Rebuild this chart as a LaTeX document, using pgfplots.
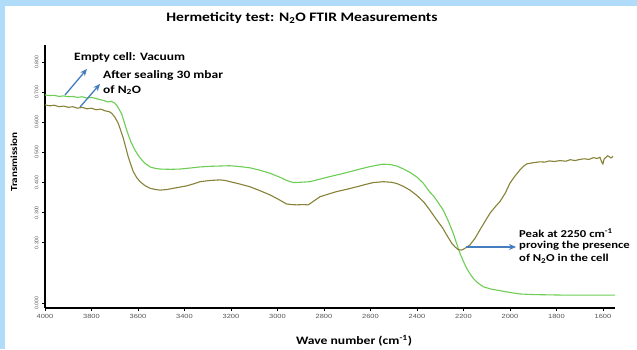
\documentclass[border=0pt]{standalone}
\usepackage{pgfplots}
\pgfplotsset{compat=1.18}
\usepackage{fontspec}
\setmainfont{Carlito}[FakeStretch=1.2]
\newfontfamily\tickfont{Liberation Sans}[FakeStretch=1.25]
\newfontfamily\ytickfont{Liberation Sans}
\usetikzlibrary{arrows.meta}
\definecolor{bgblue}{RGB}{176,220,250}
\definecolor{vacgreen}{RGB}{110,205,85}
\definecolor{olive2}{RGB}{135,130,55}
\definecolor{arrowblue}{RGB}{70,125,190}
\definecolor{tickgray}{RGB}{85,85,85}
\begin{document}
\begin{tikzpicture}[x=1bp,y=1bp]
\useasboundingbox (0,0) rectangle (637,349);
\fill[bgblue] (0,0) rectangle (637,349);
\fill[white] (5,0) rectangle (637,343);
\begin{axis}[
  at={(45bp,41bp)}, anchor=south west,
  scale only axis, width=570bp, height=263bp,
  xmin=1548, xmax=4000, x dir=reverse,
  ymin=-0.0166, ymax=0.857,
  axis lines=left, axis line style={-, line width=1.2bp, black},
  tick align=outside, major tick length=3bp,
  tick style={black, line width=0.6bp},
  xtick={1600,1800,...,4000},
  ytick={0,0.2,0.3,0.4,0.5,0.6,0.7,0.8},
  /pgf/number format/assume math mode=true,
  xticklabel style={font=\tickfont\fontsize{6}{7}\selectfont, text=tickgray},
  yticklabel style={font=\ytickfont\fontsize{5.2}{6}\selectfont, text=tickgray, rotate=90, anchor=south},
  x tick label style={/pgf/number format/1000 sep={}},
  y tick label style={/pgf/number format/.cd, fixed, fixed zerofill, precision=3},
  clip=false,
]
\addplot[vacgreen, line width=1.1bp] coordinates {
(4000,0.691)(3980,0.689)(3960,0.690)(3940,0.686)(3920,0.688)(3900,0.685)(3880,0.686)(3860,0.683)(3840,0.685)(3820,0.681)(3800,0.683)(3780,0.679)(3760,0.675)(3745,0.672)(3730,0.668)(3715,0.670)(3700,0.664)(3690,0.655)(3680,0.642)(3670,0.628)(3660,0.603)(3650,0.578)(3643,0.562)(3630,0.534)(3613,0.508)(3600,0.492)(3591,0.482)(3570,0.464)(3548,0.452)(3525,0.447)(3505,0.445)(3460,0.444)(3419,0.445)(3380,0.448)(3333,0.452)(3290,0.454)(3247,0.455)(3204,0.456)(3161,0.453)(3118,0.449)(3075,0.441)(3032,0.431)(2990,0.418)(2960,0.407)(2932,0.400)(2900,0.401)(2860,0.403)(2820,0.411)(2774,0.420)(2730,0.428)(2688,0.436)(2645,0.445)(2602,0.453)(2570,0.458)(2545,0.461)(2515,0.460)(2487,0.455)(2460,0.446)(2430,0.434)(2400,0.418)(2374,0.399)(2344,0.368)(2330,0.357)(2310,0.335)(2287,0.309)(2265,0.272)(2244,0.232)(2228,0.195)(2215,0.165)(2200,0.138)(2186,0.115)(2170,0.095)(2158,0.082)(2140,0.068)(2115,0.054)(2080,0.046)(2043,0.041)(2000,0.035)(1957,0.030)(1900,0.028)(1828,0.027)(1750,0.026)(1650,0.026)(1548,0.026)
};
\addplot[olive2, line width=1.1bp] coordinates {
(4000,0.658)(3980,0.655)(3960,0.657)(3940,0.652)(3920,0.654)(3900,0.650)(3880,0.652)(3860,0.647)(3840,0.650)(3820,0.645)(3800,0.647)(3780,0.642)(3760,0.644)(3740,0.638)(3725,0.636)(3713,0.630)(3700,0.618)(3685,0.597)(3675,0.575)(3663,0.547)(3652,0.515)(3642,0.486)(3630,0.458)(3620,0.436)(3605,0.416)(3591,0.403)(3570,0.390)(3548,0.381)(3525,0.377)(3505,0.375)(3475,0.377)(3448,0.381)(3420,0.385)(3391,0.389)(3360,0.396)(3333,0.403)(3290,0.407)(3247,0.409)(3225,0.407)(3204,0.403)(3161,0.395)(3118,0.386)(3075,0.373)(3032,0.359)(2995,0.344)(2961,0.329)(2940,0.327)(2918,0.326)(2890,0.327)(2868,0.326)(2845,0.338)(2817,0.353)(2780,0.362)(2746,0.370)(2700,0.378)(2659,0.386)(2620,0.394)(2588,0.400)(2545,0.403)(2510,0.401)(2487,0.397)(2460,0.388)(2430,0.375)(2400,0.357)(2370,0.335)(2344,0.308)(2315,0.276)(2290,0.250)(2272,0.226)(2250,0.198)(2237,0.187)(2222,0.177)(2210,0.176)(2201,0.178)(2185,0.186)(2172,0.193)(2150,0.215)(2129,0.243)(2108,0.270)(2086,0.298)(2065,0.318)(2043,0.337)(2020,0.365)(2000,0.398)(1980,0.420)(1957,0.442)(1940,0.455)(1928,0.462)(1900,0.466)(1871,0.469)(1850,0.468)(1830,0.472)(1810,0.470)(1785,0.473)(1760,0.471)(1740,0.476)(1720,0.473)(1699,0.477)(1680,0.479)(1660,0.477)(1640,0.483)(1625,0.480)(1613,0.484)(1605,0.468)(1600,0.462)(1595,0.478)(1580,0.489)(1565,0.482)(1556,0.487)
};
\end{axis}
% title and axis labels
\node[font=\bfseries\fontsize{13}{15}\selectfont] at (302,331) {Hermeticity test: N\textsubscript{2}O FTIR Measurements};
\node[font=\bfseries\fontsize{11.4}{13}\selectfont] at (354,8) {Wave number (cm\textsuperscript{-1})};
\node[font=\bfseries\fontsize{9.3}{11}\selectfont, rotate=90] at (14,187) {Transmission};
% annotations
\node[font=\bfseries\fontsize{11.3}{13}\selectfont, anchor=west, inner sep=0] at (74,292) {Empty cell: Vacuum};
\node[font=\bfseries\fontsize{11.3}{13}\selectfont, anchor=west, inner sep=0] at (103,273) {After sealing 30 mbar};
\node[font=\bfseries\fontsize{11.3}{13}\selectfont, anchor=west, inner sep=0] at (103,259) {of N\textsubscript{2}O};
\draw[arrowblue, line width=1.3bp, -{Stealth[length=7bp,width=6bp]}] (65,254) -- (87,280);
\draw[arrowblue, line width=1.3bp, -{Stealth[length=7bp,width=6bp]}] (80,242) -- (100,265);
\draw[arrowblue, line width=1.3bp, -{Stealth[length=7bp,width=6bp]}] (466,102) -- (516,102);
\node[font=\bfseries\fontsize{10.6}{11}\selectfont, anchor=west, inner sep=0] at (519,115.5) {Peak at 2250 cm\textsuperscript{-1}};
\node[font=\bfseries\fontsize{10.6}{11}\selectfont, anchor=west, inner sep=0] at (519,103) {proving the presence};
\node[font=\bfseries\fontsize{10.6}{11}\selectfont, anchor=west, inner sep=0] at (519,90.5) {of N\textsubscript{2}O in the cell};
\end{tikzpicture}
\end{document}
